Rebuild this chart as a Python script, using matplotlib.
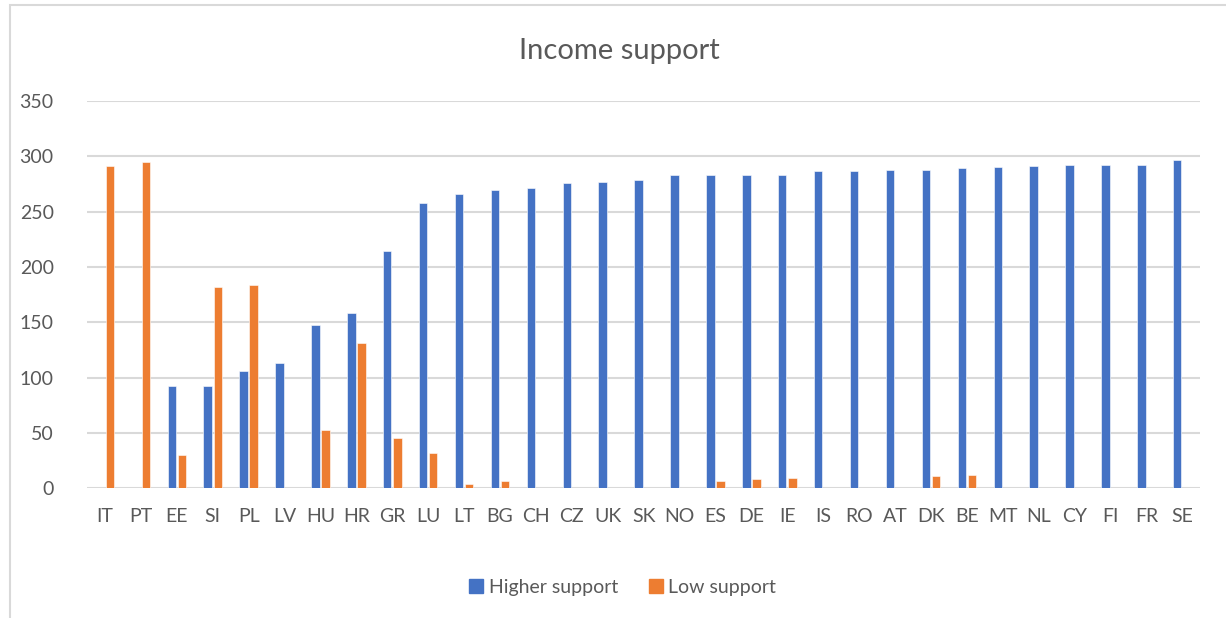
import numpy as np
import matplotlib
matplotlib.use("Agg")
import matplotlib.pyplot as plt
from matplotlib.patches import Rectangle, Patch


countries = ["IT", "PT", "EE", "SI", "PL", "LV", "HU", "HR", "GR", "LU",
             "LT", "BG", "CH", "CZ", "UK", "SK", "NO", "ES", "DE", "IE",
             "IS", "RO", "AT", "DK", "BE", "MT", "NL", "CY", "FI", "FR", "SE"]
higher = [0, 0, 92, 92, 106, 113, 148, 158, 214, 258,
          266, 270, 271, 276, 277, 279, 283, 283, 283, 283,
          287, 287, 288, 288, 289, 290, 291, 292, 292, 292, 297]
low = [291, 295, 30, 182, 184, 0, 53, 131, 45, 32,
       4, 7, 0, 0, 0, 0, 0, 7, 8, 9,
       0, 0, 0, 11, 12, 0, 0, 0, 0, 0, 0]
yticks = [0, 50, 100, 150, 200, 250, 300, 350]

blue = "#4472c4"
orange = "#ed7d31"
grey = "#595959"
grid = "#d9d9d9"

fig = plt.figure(figsize=(12.26, 6.18), dpi=100)
ax = fig.add_axes([0.071, 0.2099, 0.908, 0.6267])

x = np.arange(len(countries))
w = 0.235
ax.bar(x - 0.14, higher, w, color=blue, edgecolor="white", linewidth=0.4, zorder=3)
ax.bar(x + 0.14, low, w, color=orange, edgecolor="white", linewidth=0.4, zorder=3)

ax.set_xlim(-0.5, len(countries) - 0.5)
ax.set_ylim(0, 350)
ax.set_yticks(yticks)
ax.set_xticks(x)
ax.set_xticklabels(countries)
ax.tick_params(length=0, labelsize=14, labelcolor=grey, pad=14)
ax.tick_params(axis="y", pad=24)
for lab in ax.get_xticklabels() + ax.get_yticklabels():
    lab.set_family("Lato")
ax.grid(axis="y", color=grid, linewidth=1.5, zorder=0)
for s in ax.spines.values():
    s.set_visible(False)

fig.text(0.505, 0.918, "Income support", ha="center", va="center",
         fontsize=21, color=grey, family="Lato")

handles = [Patch(color=blue), Patch(color=orange)]
leg = fig.legend(handles, ["Higher support", "Low support"], loc="center",
                 bbox_to_anchor=(0.508, 0.05), ncol=2, frameon=False,
                 handlelength=0.7, handleheight=0.7, handletextpad=0.3,
                 columnspacing=1.6,
                 prop={"family": "Lato", "size": 14})
for t in leg.get_texts():
    t.set_color(grey)

# chart border (cut off at right and bottom)
fig.patches.append(Rectangle((10 / 1226, -0.05), 1.1, 0.05 + (618 - 4.5) / 618,
                             transform=fig.transFigure, fill=False,
                             edgecolor=grid, linewidth=1.5))

fig.savefig("out.png", dpi=100)
